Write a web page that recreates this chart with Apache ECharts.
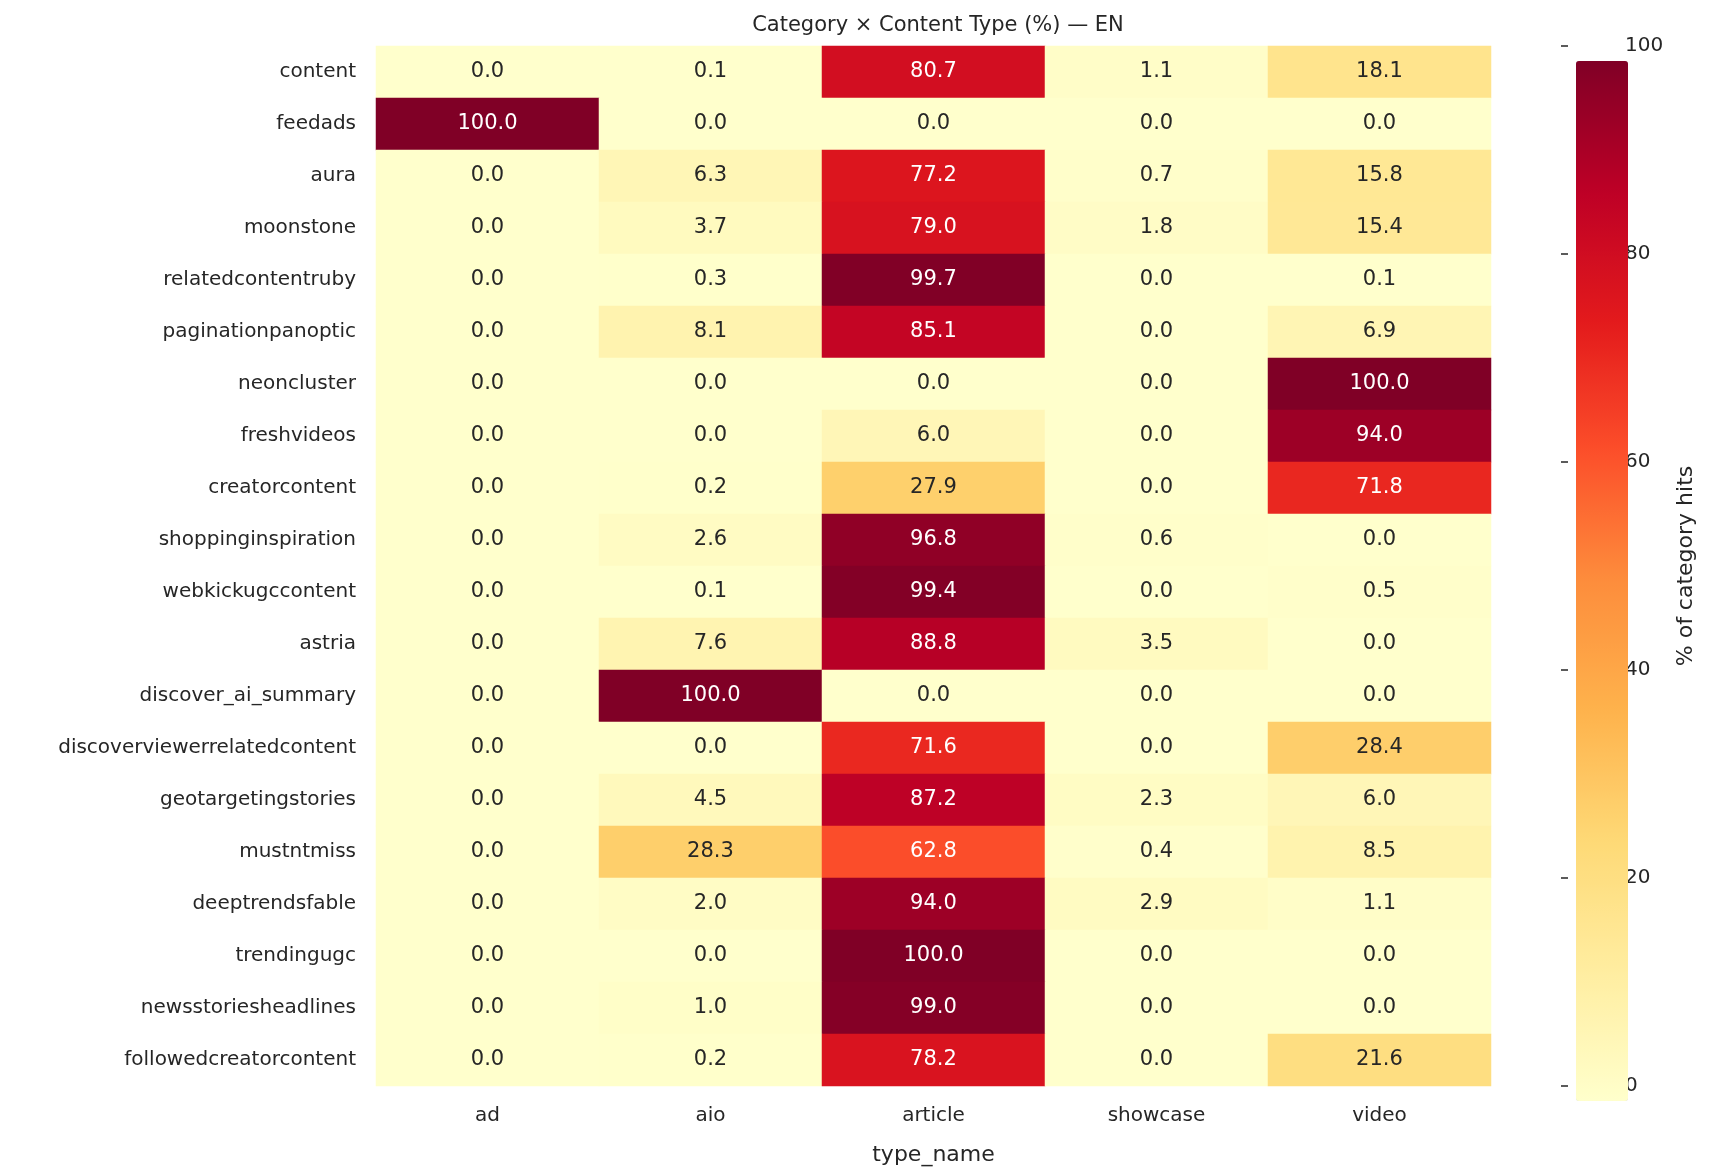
<!DOCTYPE html><html><head><meta charset="utf-8"><script src="https://cdn.jsdelivr.net/npm/echarts@6/dist/echarts.min.js"></script></head><body style="margin:0;background:#fff"><div id="c" style="width:1723px;height:1176px"></div><script>
const types=['ad','aio','article','showcase','video'];
const categories=['content','feedads','aura','moonstone','relatedcontentruby','paginationpanoptic','neoncluster','freshvideos','creatorcontent','shoppinginspiration','webkickugccontent','astria','discover_ai_summary','discoverviewerrelatedcontent','geotargetingstories','mustntmiss','deeptrendsfable','trendingugc','newsstoriesheadlines','followedcreatorcontent'];
const values=[
[0.0,0.1,80.7,1.1,18.1],[100.0,0.0,0.0,0.0,0.0],[0.0,6.3,77.2,0.7,15.8],[0.0,3.7,79.0,1.8,15.4],
[0.0,0.3,99.7,0.0,0.1],[0.0,8.1,85.1,0.0,6.9],[0.0,0.0,0.0,0.0,100.0],[0.0,0.0,6.0,0.0,94.0],
[0.0,0.2,27.9,0.0,71.8],[0.0,2.6,96.8,0.6,0.0],[0.0,0.1,99.4,0.0,0.5],[0.0,7.6,88.8,3.5,0.0],
[0.0,100.0,0.0,0.0,0.0],[0.0,0.0,71.6,0.0,28.4],[0.0,4.5,87.2,2.3,6.0],[0.0,28.3,62.8,0.4,8.5],
[0.0,2.0,94.0,2.9,1.1],[0.0,0.0,100.0,0.0,0.0],[0.0,1.0,99.0,0.0,0.0],[0.0,0.2,78.2,0.0,21.6]];
const colorTicks=[0,20,40,60,80,100];
const data=[];
values.forEach((r,i)=>r.forEach((v,j)=>data.push({value:[j,i,v],label:{color:v>50?'#ffffff':'#262626'}})));
const F='DejaVu Sans';
const chart=echarts.init(document.getElementById('c'));
chart.setOption({
title:{text:'Category × Content Type (%) — EN',left:933,top:10,textAlign:'center',textStyle:{fontFamily:F,fontSize:21,fontWeight:'normal',color:'#262626'}},
grid:[{left:376,top:46,width:1115,height:1040},{left:1561,top:46,width:52,height:1040}],
xAxis:[{type:'category',data:types,gridIndex:0,name:'type_name',nameLocation:'middle',nameGap:58,nameTextStyle:{fontFamily:F,fontSize:22,color:'#262626'},axisLine:{show:false},axisTick:{show:false},axisLabel:{fontFamily:F,fontSize:20,color:'#262626',margin:20},splitLine:{show:false}},
{type:'value',gridIndex:1,show:false}],
yAxis:[{type:'category',data:categories,inverse:true,gridIndex:0,axisLine:{show:false},axisTick:{show:false},axisLabel:{fontFamily:F,fontSize:20,color:'#262626',margin:20}},
{type:'value',gridIndex:1,position:'right',min:0,max:100,interval:20,name:'% of category hits',nameLocation:'middle',nameGap:62,nameRotate:90,nameTextStyle:{fontFamily:F,fontSize:22,color:'#262626'},
axisLine:{show:false},axisTick:{show:true,length:7,lineStyle:{color:'#262626',width:1.5}},axisLabel:{fontFamily:F,fontSize:20,color:'#262626',margin:12},splitLine:{show:false}}],
visualMap:{type:'continuous',min:0,max:100,calculable:false,show:true,left:1561,top:46,itemWidth:52,itemHeight:1040,text:null,showLabel:false,seriesIndex:0,
inRange:{color:['#ffffcc','#ffeda0','#fed976','#feb24c','#fd8d3c','#fc4e2a','#e31a1c','#bd0026','#800026']},textStyle:{color:'transparent'}},
series:[{type:'heatmap',data:data,label:{show:true,fontFamily:F,fontSize:21,formatter:p=>p.value[2].toFixed(1)},itemStyle:{borderWidth:0}}]
});
</script></body></html>
